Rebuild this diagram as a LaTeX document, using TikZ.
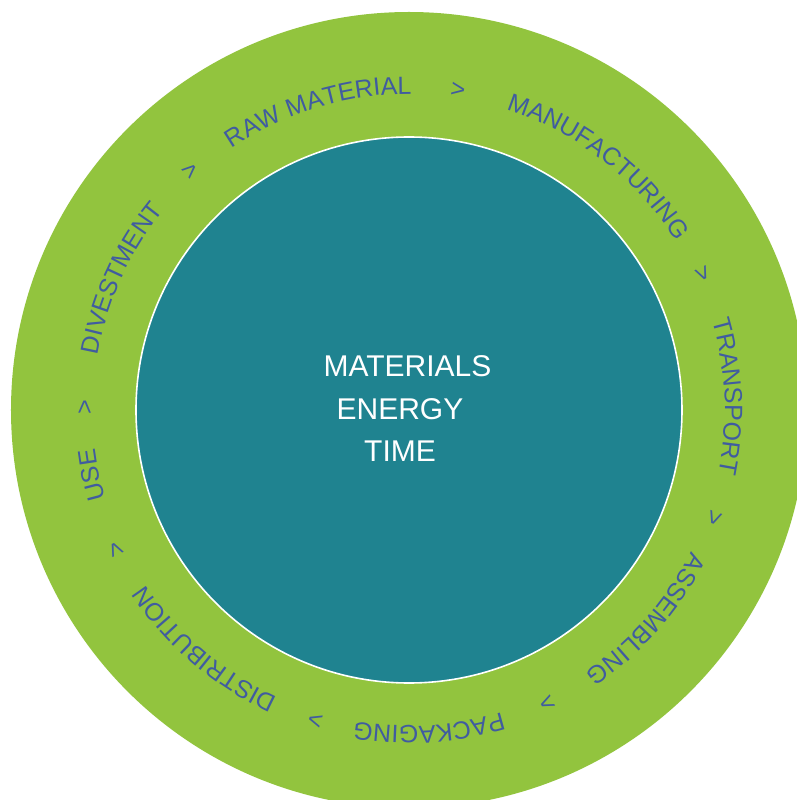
\documentclass[tikz,border=0pt]{standalone}
\usepackage{fontspec}
\setmainfont{Liberation Sans}
\usetikzlibrary{decorations.text}
\definecolor{ringgreen}{RGB}{146,196,62}
\definecolor{coreteal}{RGB}{31,131,144}
\definecolor{labelblue}{RGB}{64,92,160}
\tikzset{
  ring/.style={fill=ringgreen, draw=none},
  core/.style={fill=coreteal, draw=white, line width=1.6pt},
  coretext/.style={text=white, font=\fontsize{30}{36}\selectfont, anchor=base, inner sep=0pt},
}
\newcommand{\ringlabel}[3]{%
  \path[decorate, decoration={text along path,
      text={|\fontsize{25}{30}\selectfont\color{labelblue}|#3},
      text align=center}]
    (#1+#2:316) arc[start angle=#1+#2, end angle=#1-#2, radius=316];}
\begin{document}
\begin{tikzpicture}[x=1pt,y=1pt]
\useasboundingbox (-409,-390) rectangle (388,410);
\clip (-409,-390) rectangle (388,410);
\fill[ring] (0,0) circle[radius=398];
\filldraw[core] (0,0) circle[radius=273];
\node[coretext] (m) at (-1.5,33) {MATERIALS};
\node[coretext] (e) at (-9,-10) {ENERGY};
\node[coretext] (t) at (-9,-52) {TIME};
\ringlabel{106.8}{40}{RAW MATERIAL}
\ringlabel{81.3}{8}{>}
\ringlabel{52.2}{40}{MANUFACTURING}
\ringlabel{24.8}{8}{>}
\ringlabel{2.4}{40}{TRANSPORT}
\ringlabel{-19.4}{8}{>}
\ringlabel{-41.4}{40}{ASSEMBLING}
\ringlabel{-64.8}{8}{>}
\ringlabel{-86.4}{40}{PACKAGING}
\ringlabel{-106.8}{8}{>}
\ringlabel{-130.5}{40}{DISTRIBUTION}
\ringlabel{-154.5}{8}{>}
\ringlabel{-168.4}{40}{USE}
\ringlabel{179.5}{8}{>}
\ringlabel{155.4}{40}{DIVESTMENT}
\ringlabel{132.3}{8}{>}
\end{tikzpicture}
\end{document}
